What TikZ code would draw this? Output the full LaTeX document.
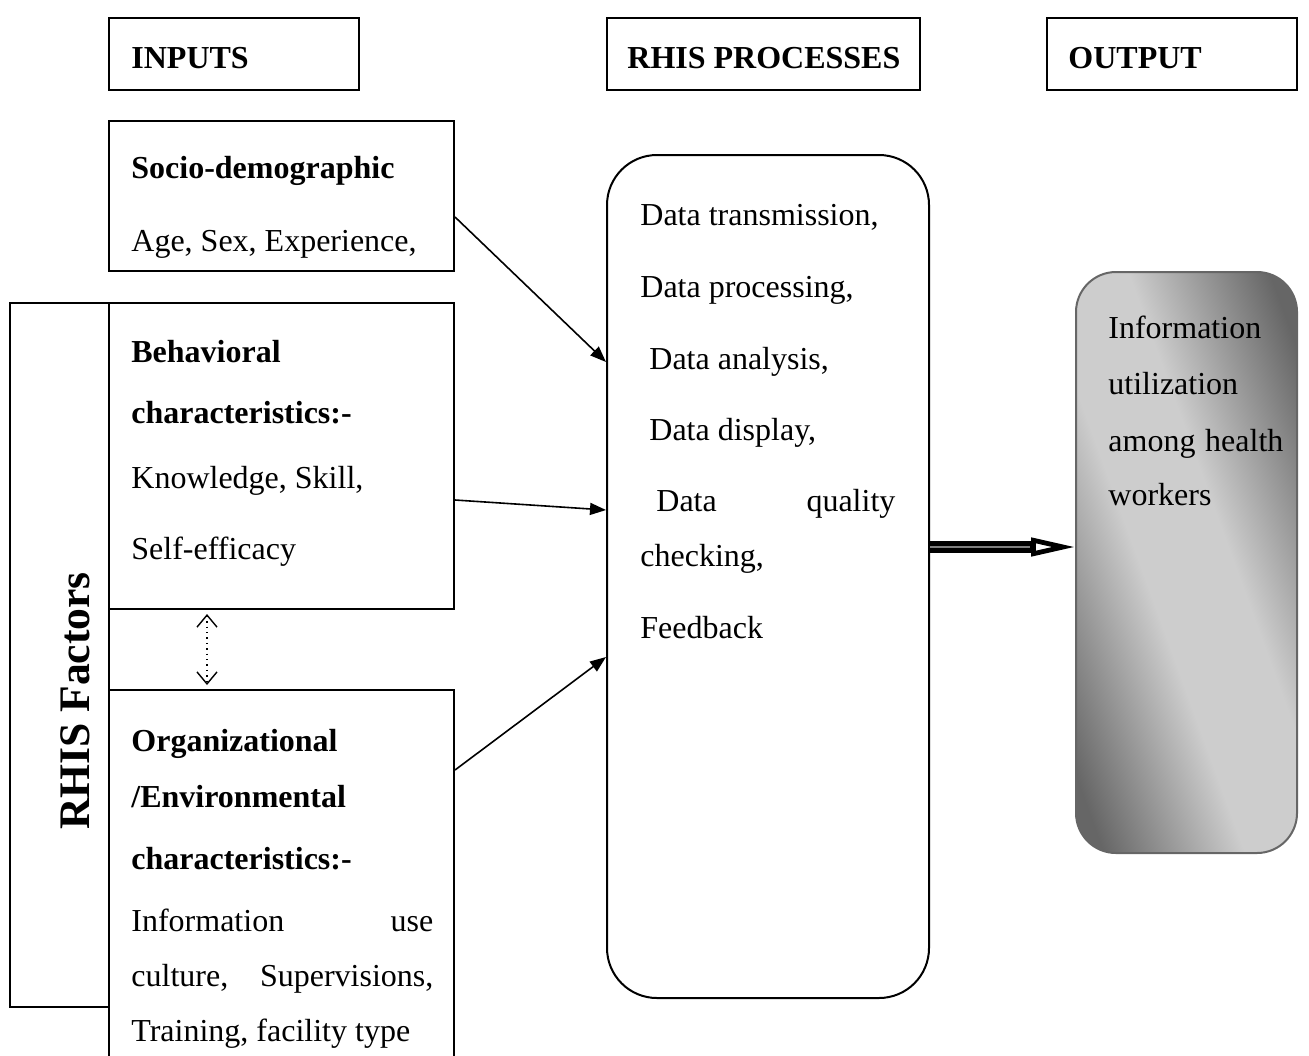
\documentclass[tikz,border=0pt]{standalone}
\usepackage{fontspec}
\setmainfont{Liberation Serif}
\usetikzlibrary{arrows.meta,calc}
\definecolor{shadedark}{HTML}{666666}
\definecolor{shadelight}{HTML}{CDCDCD}
\pgfdeclareverticalshading{softaxis}{100bp}{color(0bp)=(shadedark); color(22bp)=(shadedark); color(43bp)=(shadelight); color(57bp)=(shadelight); color(78bp)=(shadedark); color(100bp)=(shadedark)}
\begin{document}
\begin{tikzpicture}[x=0.5pt,y=-0.5pt,
  frame/.style={draw=black, line width=1pt, inner sep=0pt},
  txt/.style={anchor=base west, inner sep=0pt, font=\fontsize{16}{19}\selectfont},
  btxt/.style={anchor=base west, inner sep=0pt, font=\fontsize{16}{19}\selectfont\bfseries},
  link/.style={line width=0.8pt, -{Triangle[length=8pt,width=6pt]}},
]
\useasboundingbox (0,0) rectangle (1309,1055);

% header boxes
\node[frame, minimum width=125pt, minimum height=36pt] (inputs) at (234,54) {};
\node[frame, minimum width=156.5pt, minimum height=36pt] (prochead) at (763.5,54) {};
\node[frame, minimum width=125pt, minimum height=36pt] (outhead) at (1172,54) {};
\node[btxt] (tinputs) at (131,68) {INPUTS};
\node[btxt] (tproc) at (627,68) {RHIS PROCESSES};
\node[btxt] (tout) at (1068,68) {OUTPUT};

% RHIS factors side box
\node[frame, minimum width=49.5pt, minimum height=352pt] (factors) at (59.5,655) {};
\node[inner sep=0pt, rotate=90, font=\fontsize{21.8}{24}\selectfont\bfseries] (tfactors) at (75,701) {RHIS Factors};

% input boxes
\node[frame, minimum width=172.5pt, minimum height=75pt] (socio) at (281.5,196) {};
\node[frame, minimum width=172.5pt, minimum height=153pt] (behav) at (281.5,456) {};
\node[frame, minimum width=172.5pt, minimum height=185pt] (org) at (281.5,875) {};

\node[btxt] (s1) at (131,178) {Socio-demographic};
\node[txt]  (s2) at (131,251) {Age, Sex, Experience,};

\node[btxt] (b1) at (131,362) {Behavioral};
\node[btxt] (b2) at (131,423) {characteristics:-};
\node[txt]  (b3) at (131,488) {Knowledge, Skill,};
\node[txt]  (b4) at (131,559) {Self-efficacy};

\node[btxt] (o1) at (131,751) {Organizational};
\node[btxt] (o2) at (131,807) {/Environmental};
\node[btxt] (o3) at (131,869) {characteristics:-};
\node[txt]  (o4) at (131,931) {\makebox[151pt][s]{Information use}};
\node[txt]  (o5) at (131,986) {\makebox[151pt][s]{culture, Supervisions,}};
\node[txt]  (o6) at (131,1041) {Training, facility type};

% processes
\node[frame, rounded corners=25pt, minimum width=161pt, minimum height=421.5pt] (proc) at (768,576.5) {};
\node[txt] (p1) at (640,225) {Data transmission,};
\node[txt] (p2) at (640,297) {Data processing,};
\node[txt] (p3) at (649,369) {Data analysis,};
\node[txt] (p4) at (649,440) {Data display,};
\node[txt] (p5) at (656,511) {\makebox[119.5pt][s]{Data quality}};
\node[txt] (p6) at (640,566) {checking,};
\node[txt] (p7) at (640,638) {Feedback};

% output
\node[draw=shadedark, line width=1pt, rounded corners=20pt, inner sep=0pt,
      minimum width=110.5pt, minimum height=290.5pt,
      shading=softaxis, shading angle=-70] (out) at (1186.5,562.5) {};
\node[txt] (u1) at (1108,338) {Information};
\node[txt] (u2) at (1108,394) {utilization};
\node[txt] (u3) at (1108,451) {\makebox[87.5pt][s]{among health}};
\node[txt] (u4) at (1108,505) {workers};

% connectors
\draw[link] ($(socio.east)+(0,21)$) -- ($(proc.west)+(0,-214.5)$);
\draw[link] ($(behav.east)+(0,44)$) -- ($(proc.west)+(0,-66.5)$);
\draw[link] ($(org.east)+(0,-105)$) -- ($(proc.west)+(0,80.5)$);

\draw[line width=0.7pt, dotted, {Straight Barb[length=6pt,width=10pt,line width=0.7pt]}-{Straight Barb[length=6pt,width=10pt,line width=0.7pt]}]
  ($(behav.south)+(-74.5,4)$) -- ($(org.north)+(-74.5,-4)$);

% thick output arrow
\coordinate (a0) at ($(proc.east)+(0,-29.5)$);
\coordinate (a1) at ($(out.west)+(0,-15.5)$);
\draw[line width=2.7pt, double=gray, double distance=1pt, shorten >=22pt] (a0) -- (a1);
\draw[line width=2.4pt, shorten <=50pt, -{Triangle[open,length=22pt,width=9pt]}] (a0) -- (a1);
\end{tikzpicture}
\end{document}
